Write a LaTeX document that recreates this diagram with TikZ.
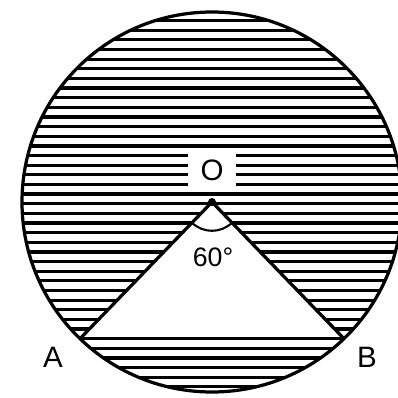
\documentclass[tikz,border=0pt]{standalone}
\usepackage{fontspec}
\setmainfont{Liberation Sans}
\begin{document}
\begin{tikzpicture}[line width=2.3pt, lbl/.style={font=\fontsize{21}{24}\selectfont}]
    \useasboundingbox (-5.3,-4.9) rectangle (4.65,5.05);
    \coordinate (O) at (0,0);
    \coordinate (A) at (226:4.75);
    \coordinate (B) at (-46:4.75);
    % hatching inside the circle
    \begin{scope}
      \clip (O) circle (4.75);
      \foreach \k in {-5,...,34}
        \draw (-5,{-3.417+0.241*\k}) -- (5,{-3.417+0.241*\k});
    \end{scope}
    \fill[white] (O) -- (A) -- (B) -- cycle;
    \draw (A) -- (O) -- (B);
    \draw (A) -- (B);
    \draw (O) circle (4.75);
    \fill (O) circle (0.1);
    \draw[line width=1.5pt] (O) ++(226:0.72) arc (226:314:0.72);
    \node[lbl, fill=white, minimum width=1.22cm, minimum height=1.02cm] (labO) at (0,0.8) {O};
    \node[lbl] (labA) at (-3.975,-3.875) {A};
    \node[lbl] (labB) at (3.875,-3.875) {B};
    \node[font=\fontsize{19}{22}\selectfont] (ang) at (0.025,-1.375) {60°};
\end{tikzpicture}
\end{document}
